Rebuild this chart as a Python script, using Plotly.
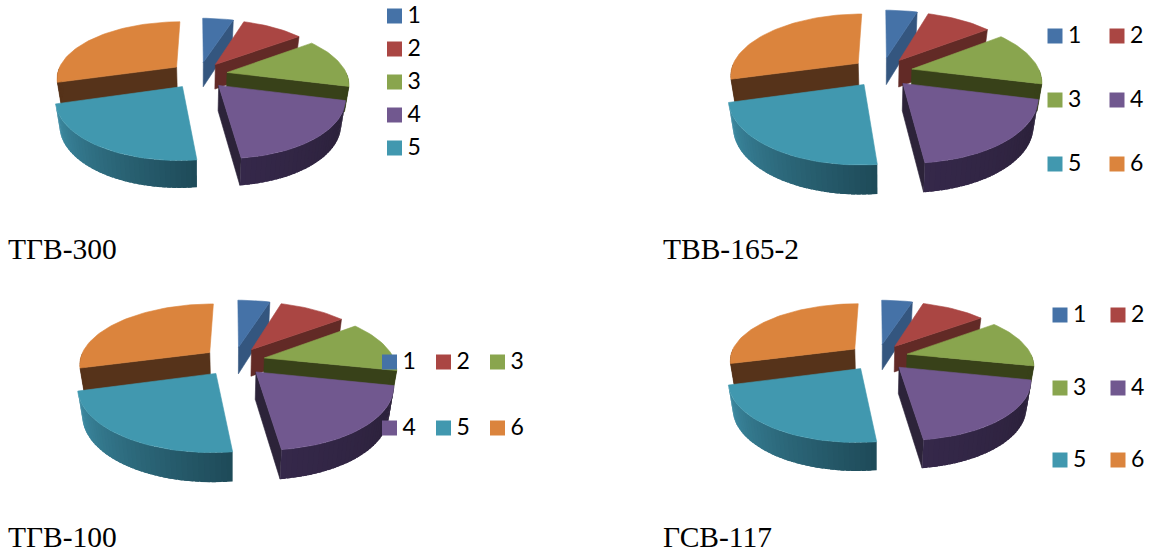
import math
import plotly.graph_objects as go

# ---- data: slice shares (%) per chart ----
labels = ["1", "2", "3", "4", "5", "6"]
tgv300 = [5.0, 10.0, 13.9, 19.2, 22.5, 29.4]
tvv165 = [4.8, 10.0, 14.0, 19.5, 22.5, 29.2]
tgv100 = [4.8, 10.0, 13.5, 19.7, 22.8, 29.2]
gsv117 = [4.8, 10.0, 13.5, 19.7, 22.8, 29.2]
titles = ["ТГВ-300", "ТВВ-165-2", "ТГВ-100", "ГСВ-117"]

top_colors = ["#4572A7", "#AA4643", "#89A54E", "#71588F", "#4198AF", "#DB843D"]
side_colors = ["#34567F", "#622A26", "#384119", "#2C2339", "#2B6A7C", "#56331A"]
arc_ramp = {3: ("#2A2038", "#35284A"), 4: ("#1E4A58", "#3E8EA6")}

charts = [
    dict(values=tgv300, title=titles[0], cx=199, cy=75, R=120, bR=56, h=25, tx=6, ty=249,
         leg=(394.5, 16), cols=[0], rows=[0, 33, 66, 99, 132], n=5, order="col"),
    dict(values=tvv165, title=titles[1], cx=882, cy=72, R=128, bR=61, h=27, tx=661, ty=249,
         leg=(1055, 36), cols=[0, 62], rows=[0, 64, 128], n=6, order="row"),
    dict(values=tgv100, title=titles[2], cx=234, cy=361, R=130.5, bR=60, h=27, tx=6, ty=537,
         leg=(389.5, 362), cols=[0, 54, 108], rows=[0, 66], n=6, order="row"),
    dict(values=gsv117, title=titles[3], cx=878, cy=357, R=125, bR=56, h=26, tx=661, ty=537,
         leg=(1060, 315), cols=[0, 58], rows=[0, 73, 145], n=6, order="row"),
]
D = 5.6       # perspective distance
EXPL = 0.24   # explosion
SHRINK = 0.97


def hex_mix(a, b, t):
    ca = [int(a[i:i + 2], 16) for i in (1, 3, 5)]
    cb = [int(b[i:i + 2], 16) for i in (1, 3, 5)]
    return "#%02x%02x%02x" % tuple(round(p + (q - p) * t) for p, q in zip(ca, cb))


fig = go.Figure()


def poly(xs, ys, color, width=0.6):
    fig.add_trace(go.Scatter(x=xs + xs[:1], y=ys + ys[:1], mode="lines", fill="toself",
                             fillcolor=color, line=dict(color=color, width=width),
                             hoverinfo="skip", showlegend=False))


def draw_chart(c):
    total = sum(c["values"])
    angles = [0]
    for v in c["values"]:
        angles.append(angles[-1] + v / total * 360)

    def pt(ang, r, ox, oy, bottom=False):
        X = r * math.sin(math.radians(ang)) + ox
        Y = r * math.cos(math.radians(ang)) + oy
        s = D / (D + Y)
        x = c["cx"] + c["R"] * X * s
        y = c["cy"] - c["bR"] * Y * s
        if bottom:
            x = c["cx"] + (x - c["cx"]) * SHRINK
            y = y + c["h"] * (1 - 0.08 * Y)
        return x, y

    for i in [0, 1, 2, 5, 4, 3]:
        a0, a1 = angles[i], angles[i + 1]
        mid = math.radians((a0 + a1) / 2)
        ox, oy = EXPL * math.sin(mid), EXPL * math.cos(mid)
        cut = None
        if 0 < a1 < 180:
            cut = a1
        elif 180 < a0 < 360:
            cut = a0
        if cut is not None:
            p = [pt(0, 0, ox, oy), pt(cut, 1, ox, oy), pt(cut, 1, ox, oy, True), pt(0, 0, ox, oy, True)]
            poly([q[0] for q in p], [q[1] for q in p], side_colors[i])
        lo, hi = max(a0, 90), min(a1, 270)
        if hi > lo:
            nseg = max(2, int((hi - lo) / 2))
            for k in range(nseg):
                t0 = lo + (hi - lo) * k / nseg
                t1 = min(hi, lo + (hi - lo) * (k + 1) / nseg + 1.5)
                ramp = arc_ramp.get(i)
                col = hex_mix(ramp[0], ramp[1], (k + 0.5) / nseg) if ramp else side_colors[i]
                p = [pt(t0, 1, ox, oy), pt(t1, 1, ox, oy), pt(t1, 1, ox, oy, True), pt(t0, 1, ox, oy, True)]
                poly([q[0] for q in p], [q[1] for q in p], col, 0)
        n = max(4, int((a1 - a0) / 2))
        p = [pt(0, 0, ox, oy)] + [pt(a0 + (a1 - a0) * k / n, 1, ox, oy) for k in range(n + 1)]
        poly([q[0] for q in p], [q[1] for q in p], top_colors[i])


def draw_legend(c):
    lx, ly = c["leg"]
    if c["order"] == "col":
        pos = [(lx, ly + r) for r in c["rows"]]
    else:
        pos = [(lx + k, ly + r) for r in c["rows"] for k in c["cols"]]
    pos = pos[:c["n"]]
    fig.add_trace(go.Scatter(
        x=[q[0] for q in pos], y=[q[1] for q in pos], mode="markers",
        marker=dict(symbol="square", size=15, color=top_colors[:c["n"]], line=dict(width=0)),
        hoverinfo="skip", showlegend=False))
    fig.add_trace(go.Scatter(
        x=[q[0] + 13 for q in pos], y=[q[1] + 1 for q in pos], mode="text",
        text=labels[:c["n"]], textposition="middle right",
        textfont=dict(family="Lato", size=23, color="#000000"),
        hoverinfo="skip", showlegend=False))


for c in charts:
    draw_chart(c)
for c in charts:
    draw_legend(c)
    fig.add_annotation(x=c["tx"], y=c["ty"], text=c["title"], showarrow=False, xanchor="left",
                       yanchor="middle", font=dict(family="Liberation Serif", size=29.5, color="#000000"))

fig.update_layout(
    width=1155, height=552, margin=dict(l=0, r=0, t=0, b=0),
    paper_bgcolor="#ffffff", plot_bgcolor="#ffffff", showlegend=False,
    xaxis=dict(range=[0, 1155], visible=False, fixedrange=True),
    yaxis=dict(range=[552, 0], visible=False, fixedrange=True),
)
fig.write_html("out.html", config=dict(displayModeBar=False),
               post_script="document.body.style.margin='0';document.documentElement.style.overflow='hidden';")
